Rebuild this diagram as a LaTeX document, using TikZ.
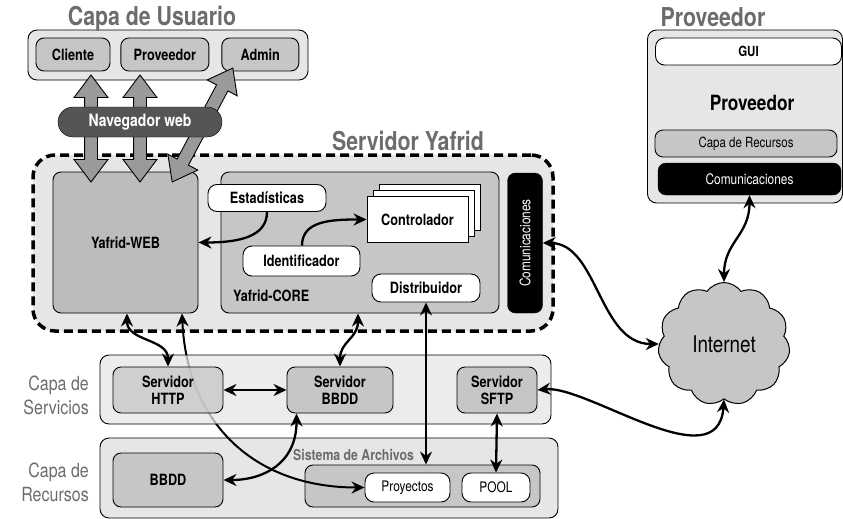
\documentclass[tikz,border=0pt]{standalone}
\usepackage{fontspec}
\setmainfont{TeX Gyre Heros}[FakeStretch=0.82]
\usetikzlibrary{arrows.meta,positioning,shapes.symbols,shapes.arrows}
\definecolor{capabg}{HTML}{E6E6E6}
\definecolor{boxgray}{HTML}{C6C6C6}
\definecolor{titlegray}{HTML}{6C6C6C}
\definecolor{navdark}{HTML}{555555}
\definecolor{fatgray}{HTML}{9A9A9A}

\begin{document}
\begin{tikzpicture}[x=1pt,y=-1pt,
 every node/.style={font=\fontsize{15.5}{17}\selectfont\bfseries,inner sep=0pt},
 sz/.style 2 args={minimum width=#1,minimum height=#2},
 capa/.style={draw,rounded corners=9pt,fill=capabg,line width=0.9pt},
 box/.style={draw,rounded corners=8pt,fill=boxgray,line width=0.9pt,align=center},
 wbox/.style={draw,rounded corners=9pt,fill=white,line width=0.9pt},
 blk/.style={draw,rounded corners=8pt,fill=black,text=white,font=\fontsize{14.5}{16}\selectfont},
 ttl/.style={text=titlegray,font=\fontsize{26}{28}\selectfont\bfseries},
 side/.style={text=titlegray,font=\fontsize{19.5}{24}\selectfont,align=right,anchor=east},
 arr/.style={{Stealth[length=13pt,width=12pt]}-{Stealth[length=13pt,width=12pt]},line width=2.3pt},
 arr1/.style={-{Stealth[length=13pt,width=12pt]},line width=2.3pt},
 fat/.style={double arrow,draw,fill=fatgray,line width=0.9pt,inner ysep=6pt,inner xsep=0pt,
   double arrow head extend=10.5pt,double arrow tip angle=74}]
\useasboundingbox (0,0) rectangle (843,519);

% capa de usuario
\node[capa,sz={280pt}{50pt}] (usuario) at (168,55) {};
\node[ttl] (usrttl) at (152,19) {Capa de Usuario};
\node[box,sz={74pt}{33pt}] (cli) at (73,54.5) {Cliente};
\node[box,sz={88pt}{33pt},right=10pt of cli] (prov) {Proveedor};
\node[box,sz={77pt}{33pt},right=12pt of prov] (admin) {Admin};

% servidor yafrid
\node[draw,line width=3.5pt,dash pattern=on 9pt off 5pt,rounded corners=22pt,fill=capabg,sz={520pt}{176pt}] (yafrid) at (293,243) {};
\node[ttl] (yafttl) at (408,141) {Servidor Yafrid};
\node[box,fill=boxgray!95!black,sz={145pt}{141pt}] (web) at (125.5,242.5) {Yafrid-WEB};
\node[box,sz={278pt}{141pt}] (core) at (360,242.5) {};
\node[anchor=west] (corelbl) at (233,296) {Yafrid-CORE};
\node[wbox,sz={118pt}{27pt}] (est) at (267,198) {Estadísticas};
\node[wbox,sz={117pt}{30pt}] (ident) at (301.5,261) {Identificador};
\node[wbox,sz={108pt}{28pt}] (dist) at (426,288) {Distribuidor};
\node[draw,fill=white,line width=0.9pt,sz={101pt}{46pt}] (ctrl3) at (429.5,207.5) {};
\node[draw,fill=white,line width=0.9pt,sz={101pt}{46pt}] (ctrl2) at (423.5,213.5) {};
\node[draw,fill=white,line width=0.9pt,sz={101pt}{46pt}] (ctrl) at (417.5,219.5) {Controlador};
\node[blk,rotate=90,sz={140pt}{35pt}] (comm) at (525,243) {Comunicaciones};

% capa de recursos
\node[capa,sz={458pt}{80pt}] (recursos) at (329,478) {};
\node[side] (reclbl) at (89,482) {Capa de\\Recursos};
\node[box,sz={110pt}{54pt}] (bbdd) at (168,480) {BBDD};
\node[box,sz={235pt}{42pt}] (archivos) at (422.5,486) {};
\node[anchor=west,text=titlegray,font=\fontsize{15}{17}\selectfont\bfseries] (archlbl) at (293,455) {Sistema de Archivos};
\node[wbox,font=\fontsize{14.5}{16}\selectfont,sz={85pt}{29pt}] (pry) at (407.5,487.5) {Proyectos};
\node[wbox,font=\fontsize{14.5}{16}\selectfont,sz={68pt}{29pt}] (pool) at (496,487.5) {POOL};

\draw[arr,line width=2pt] ([xshift=56.5pt]web.south) .. controls +(5,110) and +(-110,0) .. (pry.west);

% capa de servicios
\node[capa,fill opacity=0.75,sz={451pt}{69pt}] (servicios) at (325.5,389.5) {};
\node[side] (serlbl) at (89,395) {Capa de\\Servicios};
\node[box,fill opacity=0.75,text opacity=1,sz={110pt}{46pt}] (http) at (168,390) {Servidor\\HTTP};
\node[box,sz={106pt}{46pt}] (bbsrv) at (340,390) {Servidor\\BBDD};
\node[box,sz={80pt}{46pt}] (sftp) at (497,390) {Servidor\\SFTP};

% proveedor
\node[capa,sz={195pt}{173pt}] (pbox) at (745,116.5) {};
\node[ttl] (provttl) at (713,17) {Proveedor};
\node[wbox,font=\fontsize{14}{16}\selectfont\bfseries,sz={186pt}{27pt}] (gui) at (748.5,51.5) {GUI};
\node[font=\fontsize{21}{24}\selectfont\bfseries] (provlbl) at (752,103) {Proveedor};
\node[box,font=\fontsize{14}{16}\selectfont,sz={182pt}{27pt}] (precur) at (746,143.5) {Capa de Recursos};
\node[blk,sz={183pt}{32pt}] (pcomm) at (749.5,179) {Comunicaciones};

\node[cloud,draw,fill=boxgray,line width=1pt,cloud puffs=11,cloud puff arc=110,aspect=1.07,sz={132pt}{123pt},font=\fontsize{23}{26}\selectfont] (inet) at (724,344) {Internet};

% flechas gruesas
\node[fat,rotate=90,minimum height=107pt] (fatcli) at (91,128.5) {};
\node[fat,rotate=90,minimum height=107pt] (fatprov) at (140,128.5) {};
\node[fat,rotate=62,minimum height=129pt] (fatadmin) at (202.5,125) {};
\node[draw,rounded corners=15pt,fill=navdark,text=white,font=\fontsize{17}{19}\selectfont\bfseries,sz={164pt}{30pt}] (nav) at (140,122) {Navegador web};

% conexiones
\draw[arr1] (est.south) .. controls +(0,25) and +(40,0) .. (web.east);
\draw[arr1] ([xshift=0.5pt]ident.north) .. controls +(0,-25) and +(-35,0) .. (ctrl.west);
\draw[arr] ([xshift=1.5pt]web.south) .. controls +(0,28) and +(0,-28) .. (http.north);
\draw[arr] ([xshift=-2pt]core.south) .. controls +(0,25) and +(0,-25) .. (bbsrv.north);
\draw[arr] (http.east) -- (bbsrv.west);
\draw[arr] ([xshift=10pt]bbsrv.south west) .. controls +(0,50) and +(40,0) .. (bbdd.east);
\draw[arr,line width=1.6pt] (dist.south) -- (dist.south |- archivos.north);
\draw[arr] (sftp.south) -- (pool.north);
\draw[arr] (comm.south) .. controls +(55,0) and +(-60,0) .. (inet.west);
\draw[arr] (sftp.east) .. controls +(50,-5) and +(-6,82) .. (inet.south);
\draw[arr] (pcomm.south) .. controls +(0,40) and +(0,-40) .. (inet.north);
\end{tikzpicture}
\end{document}
